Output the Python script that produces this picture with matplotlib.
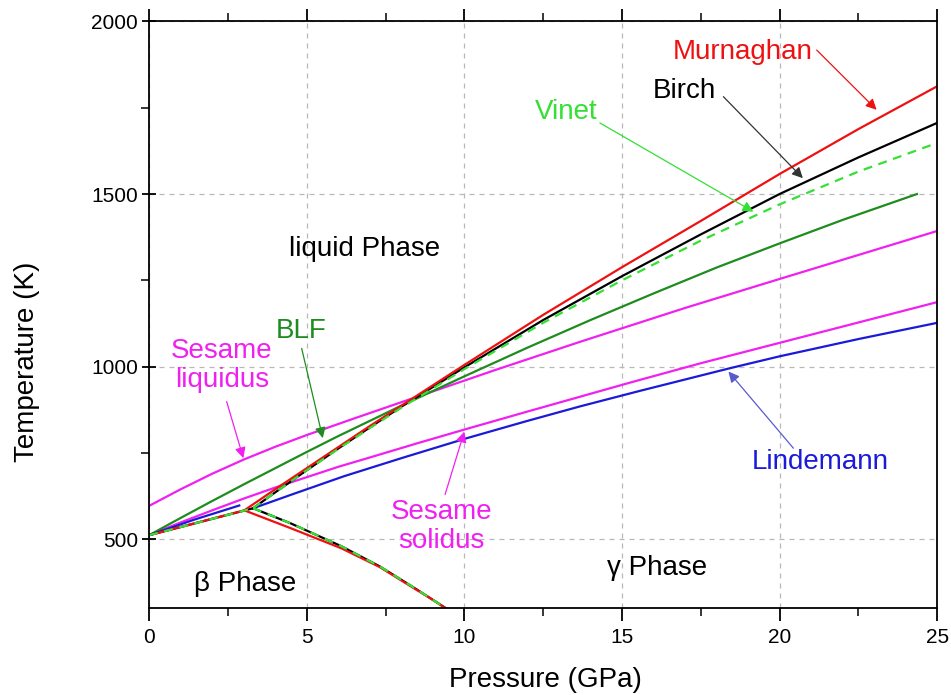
import matplotlib
matplotlib.use("Agg")
import matplotlib.pyplot as plt
from matplotlib.ticker import MultipleLocator

plt.rcParams['font.family'] = ['Liberation Sans', 'DejaVu Sans']

# ---------------- data ----------------
# Murnaghan
murn_beta_P = [0, 3.02]
murn_beta_T = [512, 584]
murn_bg_P = [3.02, 4.5, 6.1, 7.31, 8.3, 9.05, 9.42]
murn_bg_T = [584, 532, 474, 420, 364, 322, 300]
murn_melt_P = [3.02, 4, 5, 6, 7, 8, 9, 10, 12.5, 15, 17.5, 20, 22.5, 25]
murn_melt_T = [584, 645, 706, 767, 828, 887, 946, 1005, 1150, 1288, 1422, 1558, 1688, 1812]
# Birch
birch_beta_P = [0, 3.3]
birch_beta_T = [512, 590]
birch_bg_P = [3.3, 4.5, 6.1, 7.31, 8.3, 9.05, 9.42]
birch_bg_T = [590, 546, 480, 422, 366, 322, 300]
birch_melt_P = [3.3, 4, 5, 6, 7, 8, 9, 10, 12.5, 15, 17.5, 20, 22.5, 25]
birch_melt_T = [590, 636, 700, 763, 824, 884, 941, 998, 1135, 1262, 1383, 1500, 1606, 1706]
# Vinet
vinet_beta_P = [0, 3.3]
vinet_beta_T = [512, 590]
vinet_bg_P = [3.3, 4.5, 6.1, 7.31, 8.3, 9.05, 9.42]
vinet_bg_T = [590, 546, 480, 422, 366, 322, 300]
vinet_melt_P = [3.3, 4, 5, 6, 7, 8, 9, 10, 12.5, 15, 17.5, 20, 22.5, 25]
vinet_melt_T = [590, 636, 700, 762, 822, 881, 937, 993, 1127, 1250, 1365, 1470, 1565, 1648]
# BLF
blf_P = [0, 1, 2, 3, 4, 5, 6, 7, 8, 10, 12, 14, 16, 18, 20, 22, 24.36]
blf_T = [512, 562, 611, 659, 706, 753, 799, 843, 887, 972, 1055, 1135, 1212, 1287, 1357, 1425, 1500]
# Sesame
ses_liq_P = [0, 1, 2, 3, 4, 5, 6.5, 8.22, 11, 13.67, 17, 20, 25]
ses_liq_T = [597, 645, 690, 731, 768, 802, 850, 904, 991, 1072, 1170, 1254, 1393]
ses_sol_P = [0, 1, 2, 3, 4, 5, 6, 7, 8.5, 10.08, 12, 13.67, 15.3, 17.5, 20, 22.5, 25]
ses_sol_T = [512, 549, 584, 618, 650, 680, 710, 737, 778, 820, 870, 913, 955, 1010, 1069, 1128, 1187]
# Lindemann
lind_beta_P = [0, 1.43, 2.86]
lind_beta_T = [512, 557, 598]
lind_melt_P = [3.3, 4.5, 6.19, 8, 10.08, 12, 13.67, 15.57, 18.4, 20, 22.5, 25]
lind_melt_T = [590, 629, 683, 735, 793, 843, 885, 930, 995, 1030, 1080, 1127]

x_ticks = [0, 5, 10, 15, 20, 25]
y_ticks = [500, 1000, 1500, 2000]

# ---------------- colours ----------------
RED = '#ee1111'
BLACK = '#000000'
LIME = '#33e033'
DGREEN = '#1e8c1e'
MAGENTA = '#f020f0'
BLUE = '#1a1ad8'

fig = plt.figure(figsize=(9.51, 6.95), dpi=100)
ax = fig.add_axes([0.1568, 0.1246, 0.8286, 0.8446])

ax.set_xlim(0, 25)
ax.set_ylim(300, 2000)
ax.set_xticks(x_ticks)
ax.set_yticks(y_ticks)
ax.xaxis.set_minor_locator(MultipleLocator(2.5))
ax.yaxis.set_minor_locator(MultipleLocator(250))

ax.grid(True, which='major', color='#b8b8b8', linestyle=(0, (4, 4)), linewidth=0.9)
ax.set_axisbelow(True)

lw = 1.6
ax.plot(ses_liq_P, ses_liq_T, color=MAGENTA, lw=lw)
ax.plot(ses_sol_P, ses_sol_T, color=MAGENTA, lw=lw)
ax.plot(blf_P, blf_T, color=DGREEN, lw=lw)
ax.plot(lind_beta_P, lind_beta_T, color=BLUE, lw=lw)
ax.plot(lind_melt_P, lind_melt_T, color=BLUE, lw=lw)
for P, T in [(birch_beta_P, birch_beta_T), (birch_bg_P, birch_bg_T), (birch_melt_P, birch_melt_T)]:
    ax.plot(P, T, color=BLACK, lw=lw)
for P, T in [(murn_beta_P, murn_beta_T), (murn_bg_P, murn_bg_T), (murn_melt_P, murn_melt_T)]:
    ax.plot(P, T, color=RED, lw=lw)
for P, T in [(vinet_beta_P, vinet_beta_T), (vinet_bg_P, vinet_bg_T), (vinet_melt_P, vinet_melt_T)]:
    ax.plot(P, T, color=LIME, lw=lw, linestyle=(0, (4, 3)))

# ---------------- annotations ----------------
fs = 20

def arrow(txt_xy, tip_xy, color, lw=0.9):
    ax.annotate('', xy=tip_xy, xytext=txt_xy,
                arrowprops=dict(arrowstyle='-|>', color=color, lw=lw,
                                mutation_scale=16, shrinkA=0, shrinkB=0))

ax.text(18.84, 1911, 'Murnaghan', color=RED, fontsize=fs, ha='center', va='center')
arrow((21.18, 1917), (23.08, 1744), RED)
ax.text(16.97, 1798, 'Birch', color=BLACK, fontsize=fs, ha='center', va='center')
arrow((18.22, 1782), (20.74, 1546), '#333333')
ax.text(13.23, 1737, 'Vinet', color=LIME, fontsize=fs, ha='center', va='center')
arrow((14.3, 1706), (19.17, 1449), LIME)
ax.text(6.82, 1340, 'liquid Phase', color=BLACK, fontsize=fs, ha='center', va='center')
ax.text(2.31, 1003, 'Sesame\nliquidus', color=MAGENTA, fontsize=fs, ha='center', va='center',
        linespacing=1.15)
arrow((2.46, 899), (2.99, 735), MAGENTA)
ax.text(4.82, 1103, 'BLF', color=DGREEN, fontsize=fs, ha='center', va='center')
arrow((4.84, 1053), (5.51, 793), DGREEN)
ax.text(9.28, 538, 'Sesame\nsolidus', color=MAGENTA, fontsize=fs, ha='center', va='center',
        linespacing=1.15)
arrow((9.39, 630), (10.0, 812), MAGENTA)
ax.text(21.28, 725, 'Lindemann', color=BLUE, fontsize=fs, ha='center', va='center')
arrow((20.44, 764), (18.38, 986), '#5a5ad0')
ax.text(3.04, 371, 'β Phase', color=BLACK, fontsize=fs, ha='center', va='center')
ax.text(16.13, 417, 'γ Phase', color=BLACK, fontsize=fs, ha='center', va='center')

# ---------------- axes styling ----------------
ax.set_xlabel('Pressure (GPa)', fontsize=20)
ax.set_ylabel('Temperature (K)', fontsize=20)
ax.xaxis.set_label_coords(0.5025, -0.100)
ax.yaxis.set_label_coords(-0.138, 0.42)
for s in ax.spines.values():
    s.set_linewidth(1.3)
ax.tick_params(axis='both', which='major', labelsize=15, width=1.3)
ax.tick_params(axis='x', which='major', direction='out', length=9, top=True, pad=5)
ax.tick_params(axis='x', which='minor', direction='out', length=6, top=True, width=1.1)
ax.tick_params(axis='y', which='major', direction='inout', length=10, pad=3)
ax.tick_params(axis='y', which='minor', direction='out', length=6, width=1.1)
ax.tick_params(axis='y', which='both', right=False)

fig.savefig('out.png', dpi=100)
